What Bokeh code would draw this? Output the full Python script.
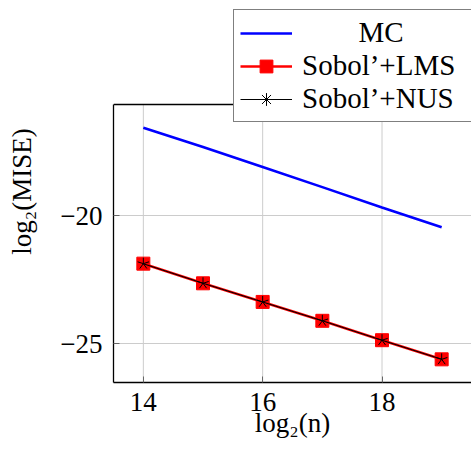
from bokeh.plotting import figure
from bokeh.models import Legend, LegendItem, FixedTicker, Span
from bokeh.embed import file_html
from bokeh.resources import INLINE

# ---- data ----
log2_n = [14, 15, 16, 17, 18, 19]
mc = [-16.54, -17.30, -18.08, -18.87, -19.67, -20.44]
sobol_lms = [-21.87, -22.64, -23.37, -24.11, -24.87, -25.62]
sobol_nus = [-21.87, -22.64, -23.37, -24.11, -24.87, -25.62]
x_ticks = [14, 16, 18]
y_ticks = [-25, -20]
y_tick_labels = {-25: "\u221225", -20: "\u221220"}

# ---- layout constants ----
W, H = 471, 454
BORDER_L, BORDER_B = 113, 72
AREA_TOP_PX = 104          # top of the axis box, measured from the top of the figure

allx = log2_n
ally = mc + sobol_lms + sobol_nus
dx = 0.1 * (max(allx) - min(allx))
dy = 0.1 * (max(ally) - min(ally))
x_lo, x_hi = min(allx) - dx, max(allx) + dx
area_lo, area_hi = min(ally) - dy, max(ally) + dy
frame_h = H - BORDER_B
scale = (frame_h - AREA_TOP_PX) / (area_hi - area_lo)
y_top = area_hi + AREA_TOP_PX / scale   # room above the axis box for the legend

FONT = "Liberation Serif"
FS = "27px"
GRID = "#cccccc"

p = figure(width=W, height=H,
           x_range=(x_lo, x_hi), y_range=(area_lo, y_top),
           output_backend="svg", toolbar_location=None,
           min_border_left=BORDER_L, min_border_right=0,
           min_border_top=0, min_border_bottom=BORDER_B)
p.outline_line_color = None
p.background_fill_color = "white"
p.border_fill_color = "white"

for ax in (p.xaxis[0], p.yaxis[0]):
    ax.major_label_text_font = FONT
    ax.major_label_text_font_size = FS
    ax.major_label_text_color = "black"
    ax.axis_label_text_font = FONT
    ax.axis_label_text_font_size = FS
    ax.axis_label_text_font_style = "normal"
    ax.axis_label_text_color = "black"
    ax.axis_line_color = "black"
    ax.axis_line_width = 1.3
    ax.major_tick_in = 6
    ax.major_tick_out = 0
    ax.major_tick_line_color = "#666666"
    ax.minor_tick_line_color = None

p.xaxis[0].ticker = FixedTicker(ticks=x_ticks)
p.yaxis[0].ticker = FixedTicker(ticks=y_ticks)
p.yaxis[0].bounds = (area_lo, area_hi)
p.yaxis[0].major_label_overrides = y_tick_labels
p.xaxis[0].axis_label = "log\u2082(n)"
p.yaxis[0].axis_label = "log\u2082(MISE)"
p.xaxis[0].major_label_standoff = 10
p.xaxis[0].axis_label_standoff = -6
p.yaxis[0].major_label_standoff = 11
p.yaxis[0].axis_label_standoff = 20

# horizontal grid from the library; vertical grid limited to the axis box
p.xgrid.visible = False
p.ygrid.ticker = FixedTicker(ticks=y_ticks)
p.ygrid.grid_line_color = GRID
p.ygrid.grid_line_width = 1
p.segment(x0=x_ticks, y0=[area_lo] * len(x_ticks), x1=x_ticks,
          y1=[area_hi] * len(x_ticks), line_color=GRID, line_width=1)

# top spine of the axis box
p.add_layout(Span(location=area_hi, dimension="width",
                  line_color="black", line_width=1.3))

mc_line = p.line(log2_n, mc, line_color="#0000ff", line_width=2.6)
lms_line = p.line(log2_n, sobol_lms, line_color="#ff0000", line_width=2.6)
lms_pts = p.scatter(log2_n, sobol_lms, marker="square", size=13,
                    fill_color="#ff0000", line_color="#ff0000")
nus_line = p.line(log2_n, sobol_nus, line_color="black", line_width=1.1)
for ang in [90, 162, 234, 306, 18]:
    p.ray(x=log2_n, y=sobol_nus, length=6, length_units="screen",
          angle=ang, angle_units="deg", line_color="black", line_width=1)
nus_leg = p.scatter(log2_n, sobol_nus, marker="asterisk", size=10,
                    line_color="black", line_width=1, visible=False)

legend = Legend(items=[
    LegendItem(label="\u00a0" * 7 + "\u2009MC", renderers=[mc_line]),
    LegendItem(label="Sobol\u2019+LMS", renderers=[lms_line, lms_pts]),
    LegendItem(label="Sobol\u2019+NUS", renderers=[nus_line, nus_leg]),
], location=(120, 260))
legend.label_text_font = FONT
legend.label_text_font_size = "29px"
legend.label_text_color = "black"
legend.glyph_width = 52
legend.glyph_height = 32
legend.label_height = 32
legend.label_width = 163
legend.label_standoff = 10
legend.spacing = 0
legend.padding = 6
legend.margin = 0
legend.border_line_color = "black"
legend.border_line_width = 1.3
legend.background_fill_color = "white"
legend.background_fill_alpha = 1.0
p.add_layout(legend, "center")

open("out.html", "w").write(file_html(p, INLINE))
